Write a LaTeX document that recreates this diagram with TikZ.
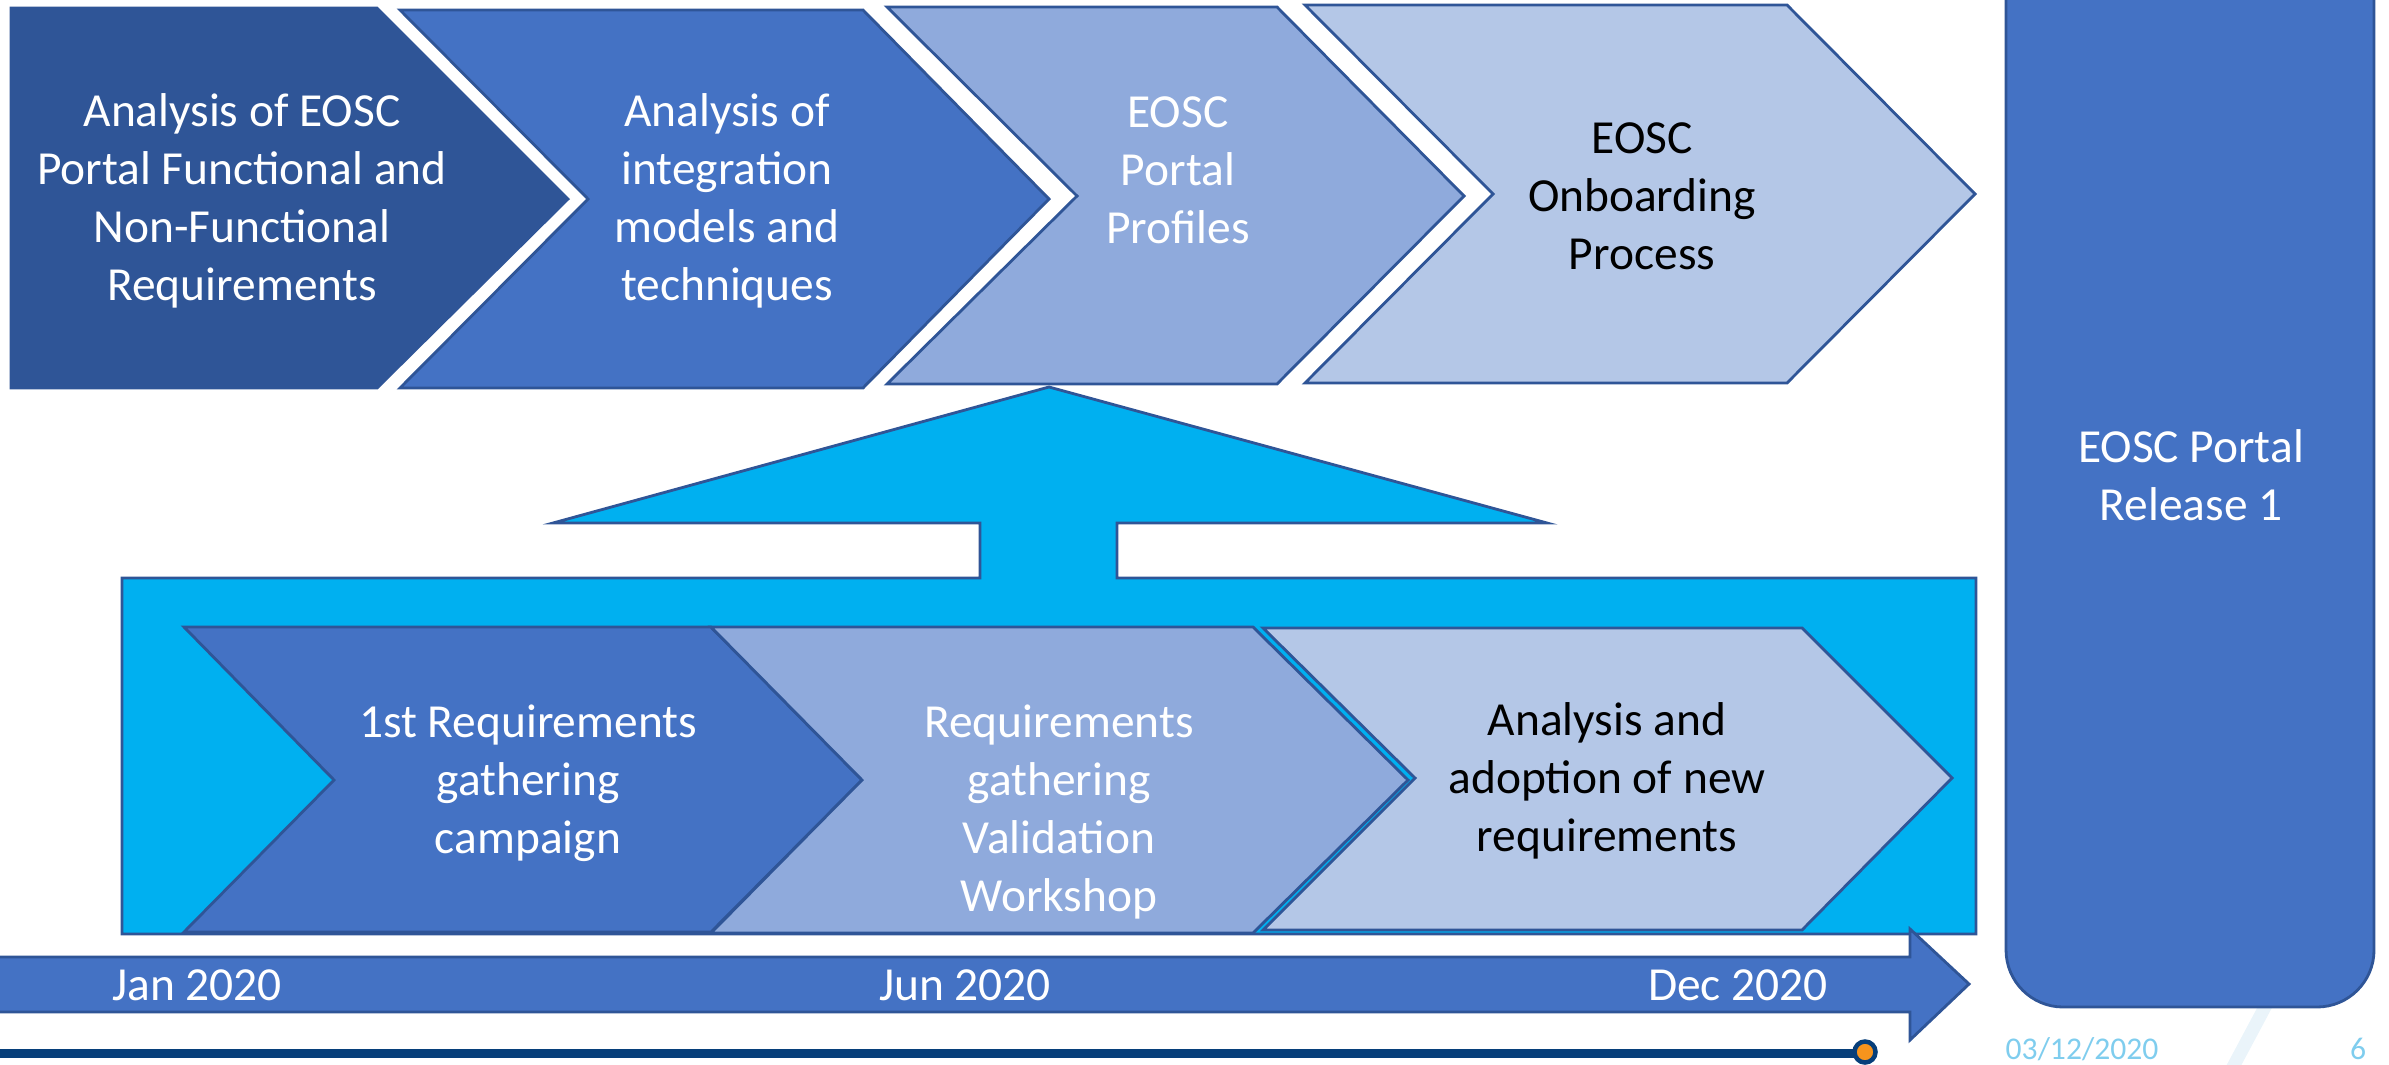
\documentclass[tikz,border=0pt]{standalone}
\usepackage{fontspec}
\setmainfont{Carlito}
\definecolor{azulesc}{HTML}{2F5597}
\definecolor{azulmed}{HTML}{4472C4}
\definecolor{azulcla}{HTML}{8FAADC}
\definecolor{azulpal}{HTML}{B4C7E7}
\definecolor{ciano}{HTML}{00B0F0}
\definecolor{marinho}{HTML}{073F7A}
\definecolor{laranja}{HTML}{F7941D}
\definecolor{datacor}{HTML}{7FCDEE}
\definecolor{traco}{HTML}{EAF4FA}

\begin{document}
\begin{tikzpicture}[x=0.1mm, y=-0.1mm,
    fase/.style={draw=azulesc, line width=0.8pt},
    texto/.style={align=center, font=\fontsize{13.5}{16.5}\selectfont},
    branco/.style={texto, text=white},
    preto/.style={texto, text=black}]
        \useasboundingbox (0,0) rectangle (2389,1064);
        % Fases de cima
        \draw[fase, fill=azulesc] (11,8) -- (377,8) -- (568,199) -- (377,388) -- (11,388) -- cycle;
        \draw[fase, fill=azulmed] (400,10) -- (863,10) -- (1049,199) -- (863,388) -- (400,388) -- (588,199) -- cycle;
        \draw[fase, fill=azulcla] (887,7) -- (1277,7) -- (1464,196) -- (1277,384) -- (887,384) -- (1077,196) -- cycle;
        \draw[fase, fill=azulpal] (1305,5) -- (1787,5) -- (1975,194) -- (1787,383) -- (1305,383) -- (1493,194) -- cycle;
        \node[branco] (funcional) at (242,201) {Analysis of EOSC\\Portal Functional and\\Non-Functional\\Requirements};
        \node[branco] (modelos) at (727,201) {Analysis of\\integration\\models and\\techniques};
        \node[branco] (perfis) at (1178,170) {EOSC\\Portal\\Profiles};
        \node[preto] (onboarding) at (1642,196) {EOSC\\Onboarding\\Process};
        % Seta dos requisitos
        \draw[fase, fill=ciano] (122,578) -- (980,578) -- (980,523) -- (553,523) -- (1049,387)
            -- (1547,523) -- (1117,523) -- (1117,578) -- (1976,578) -- (1976,934) -- (122,934) -- cycle;
        % Fases de baixo
        \draw[fase, fill=azulmed] (184,627) -- (711,627) -- (862,780) -- (711,932) -- (184,932) -- (334,780) -- cycle;
        \draw[fase, fill=azulcla] (711,627) -- (1253,627) -- (1408,780) -- (1253,933) -- (711,933) -- (862,780) -- cycle;
        \draw[fase, fill=azulpal] (1263,628) -- (1802,628) -- (1952,778) -- (1802,930) -- (1263,930) -- (1415,778) -- cycle;
        \node[branco] (campanha) at (528,783) {1st Requirements\\gathering\\campaign};
        \node[branco] (workshop) at (1059,812) {Requirements\\gathering\\Validation\\Workshop};
        \node[preto] (adocao) at (1607,781) {Analysis and\\adoption of new\\requirements};
        % Linha do tempo
        \draw[fase, fill=azulmed] (-10,957) -- (1910,957) -- (1910,929) -- (1969,984) -- (1910,1040) -- (1910,1012) -- (-10,1012) -- cycle;
        \node[branco] (jan) at (197,985) {Jan 2020};
        \node[branco] (jun) at (965,985) {Jun 2020};
        \node[branco] (dez) at (1738,985) {Dec 2020};
        % Release
        \draw[line width=1.3mm, color=traco] (2290,960) -- (2226,1080);
        \draw[fase, fill=azulmed, rounded corners=5.7mm] (2006,-120) rectangle (2374,1007);
        \node[branco] (release) at (2191,475) {EOSC Portal\\Release 1};
        % Rodape
        \coordinate (inicio) at (-10,1053);
        \draw[marinho, line width=0.9mm] (inicio) -- (1855,1053);
        \node[circle, draw=marinho, line width=0.45mm, fill=laranja, minimum size=2.1mm, inner sep=0pt] (marco) at (1865,1052) {};
        \node[text=datacor, font=\fontsize{9}{11}\selectfont] (data) at (2082,1049) {03/12/2020};
        \node[text=datacor, font=\fontsize{9}{11}\selectfont] (pagina) at (2358,1049) {6};
    \end{tikzpicture}
\end{document}
